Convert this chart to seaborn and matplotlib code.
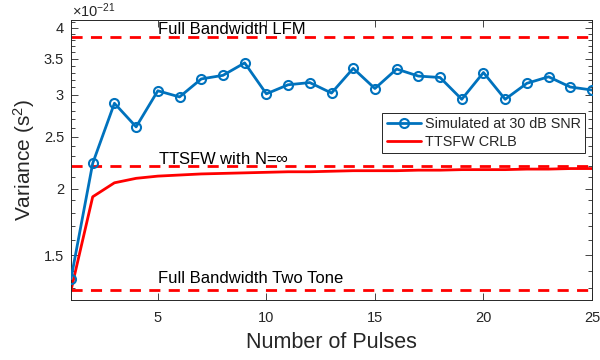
import numpy as np
import pandas as pd
import matplotlib
matplotlib.use("Agg")
import matplotlib.pyplot as plt
import seaborn as sns
from matplotlib.ticker import FixedLocator, NullFormatter, FuncFormatter

# Values in units of 1e-21 s^2
pulses = list(range(1, 26))
simulated = [1.355, 2.23, 2.89, 2.61, 3.05, 2.97, 3.21, 3.26, 3.44, 3.01,
             3.13, 3.16, 3.02, 3.36, 3.08, 3.35, 3.25, 3.23, 2.94, 3.30,
             2.94, 3.15, 3.24, 3.10, 3.06]
crlb = [1.288, 1.93, 2.05, 2.09, 2.11, 2.12, 2.13, 2.135, 2.14, 2.145,
        2.15, 2.15, 2.155, 2.16, 2.16, 2.16, 2.165, 2.165, 2.17, 2.17,
        2.17, 2.175, 2.175, 2.18, 2.18]
ref_levels = [3.84, 2.20, 1.288]
ref_labels = ["Full Bandwidth LFM", "TTSFW with N=$\\infty$", "Full Bandwidth Two Tone"]
y_ticks = [1.5, 2, 2.5, 3, 3.5, 4]
x_ticks = [5, 10, 15, 20, 25]

sns.set_style("ticks")
plt.rcParams["font.family"] = ["Liberation Sans", "DejaVu Sans"]
plt.rcParams["mathtext.fontset"] = "custom"
plt.rcParams["mathtext.rm"] = "Liberation Sans"
plt.rcParams["mathtext.it"] = "Liberation Sans"

dark = "#262626"
blue = "#0072BD"
red = "#FF0000"

df = pd.DataFrame({"pulses": pulses, "simulated": simulated, "crlb": crlb})

fig = plt.figure(figsize=(6, 3.6), dpi=100)
ax = fig.add_axes([71 / 600, 60 / 360, 521 / 600, 280 / 360])

for lvl in ref_levels:
    ax.axhline(lvl, color=red, lw=2, ls=(0, (4, 3)), zorder=1)

sns.lineplot(data=df, x="pulses", y="simulated", ax=ax, color=blue, lw=2,
             marker="o", markersize=6.5, markerfacecolor="none",
             markeredgecolor=blue, markeredgewidth=1.5,
             label="Simulated at 30 dB SNR", zorder=3)
sns.lineplot(data=df, x="pulses", y="crlb", ax=ax, color=red, lw=2,
             label="TTSFW CRLB", zorder=2)

ax.set_yscale("log")
ax.set_xlim(1, 25)
ax.set_ylim(1.236, 4.14)
ax.yaxis.set_major_locator(FixedLocator(y_ticks))
ax.yaxis.set_major_formatter(FuncFormatter(lambda v, p: f"{v:g}"))
ax.yaxis.set_minor_locator(FixedLocator(np.round(np.arange(1.3, 4.15, 0.1), 2)))
ax.yaxis.set_minor_formatter(NullFormatter())
ax.xaxis.set_major_locator(FixedLocator(x_ticks))

ax.tick_params(which="both", direction="in", top=True, right=True,
               colors=dark, labelcolor=dark, labelsize=10.5, width=0.6)
ax.tick_params(which="major", length=5)
ax.tick_params(which="minor", length=3)
ax.tick_params(axis="x", which="major", pad=8)
ax.tick_params(axis="y", which="major", pad=5)
for sp in ax.spines.values():
    sp.set_visible(True)
    sp.set_color(dark)
    sp.set_linewidth(0.7)

# annotation baselines sit a little above their dashed reference lines
label_gaps = [2.4, 1.6, 5.4]
for lvl, txt, gap in zip(ref_levels, ref_labels, label_gaps):
    ax.annotate(txt, xy=(5, lvl), xytext=(0, gap), textcoords="offset points",
                ha="left", va="baseline", fontsize=12, color="black")

# axis multiplier above the top-left corner
ax.annotate("$\\times$10$^{-21}$", xy=(0, 1), xycoords="axes fraction",
            xytext=(1, 2.2), textcoords="offset points", ha="left",
            va="baseline", fontsize=10.5, color=dark)

ax.set_xlabel("Number of Pulses", fontsize=15.5, color=dark, labelpad=5)
ax.set_ylabel("Variance (s$^2$)", fontsize=15, color=dark, labelpad=5)

leg = ax.legend(loc="upper right", bbox_to_anchor=(0.987, 0.668),
                fontsize=10.4, frameon=True, fancybox=False, framealpha=1,
                edgecolor=dark, borderaxespad=0, handlelength=2.4,
                handletextpad=0.25, borderpad=0.3, labelspacing=0.25)
leg.get_frame().set_linewidth(0.7)

fig.savefig("out.png", dpi=100)
